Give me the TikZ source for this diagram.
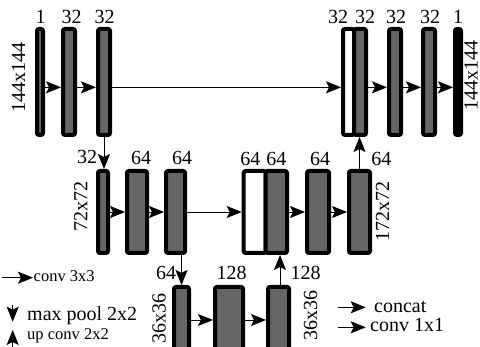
\documentclass[tikz,border=0pt]{standalone}
\usepackage{fontspec}
\setmainfont{Liberation Serif}
\newfontfamily\lserif{Liberation Serif}
\usetikzlibrary{arrows.meta}
\definecolor{boxgray}{RGB}{102,102,102}
\tikzset{
  box/.style={draw=black, line width=4pt, fill=boxgray, rounded corners=2pt, inner sep=0pt, outer sep=2pt},
  wbox/.style={box, fill=white},
  kbox/.style={box, fill=black},
  arr/.style={line width=0.9pt, -{Stealth[length=15pt,width=12pt,inset=3pt]}},
  lab/.style={inner sep=0pt, font=\lserif\fontsize{20}{24}\selectfont},
  slab/.style={inner sep=0pt, font=\lserif\fontsize{16.5}{20}\selectfont},
  rlab/.style={lab, rotate=90},
}
\begin{document}
\begin{tikzpicture}[x=1pt,y=-1pt]
\useasboundingbox (0,0) rectangle (480,347);
% row 1
\node[box, minimum width=6, minimum height=106] (b11) at (40,82) {};
\node[box, minimum width=12, minimum height=106] (b12) at (69,82) {};
\node[box, minimum width=12, minimum height=106] (b13) at (104,82) {};
\node[wbox, minimum width=11, minimum height=106] (c1a) at (348.5,82) {};
\node[box, minimum width=12, minimum height=106] (c1b) at (360,82) {};
\node[box, minimum width=12, minimum height=106] (b15) at (395,82) {};
\node[box, minimum width=12, minimum height=106] (b16) at (429,82) {};
\node[kbox, minimum width=6, minimum height=106] (b17) at (458,82) {};
% row 2
\node[box, minimum width=10, minimum height=82] (b21) at (103,212) {};
\node[box, minimum width=20, minimum height=82] (b22) at (137,212) {};
\node[box, minimum width=19, minimum height=82] (b23) at (175.5,212) {};
\node[wbox, minimum width=22, minimum height=82] (c2a) at (254.7,212) {};
\node[box, minimum width=21.5, minimum height=82] (c2b) at (276.25,212) {};
\node[box, minimum width=22, minimum height=82] (b25) at (318,212) {};
\node[box, minimum width=21, minimum height=82] (b26) at (359.5,212) {};
% row 3 (cut by the lower edge)
\node[box, minimum width=15, minimum height=72] (b31) at (181.5,323) {};
\node[box, minimum width=28, minimum height=72] (b32) at (229,323) {};
\node[box, minimum width=21, minimum height=72] (b33) at (278.5,323) {};
% row 1 arrows
\draw[arr] ([yshift=-5.3pt]b11.east) -- ([yshift=-5.3pt]b12.west);
\draw[arr] ([yshift=-5.3pt]b12.east) -- ([yshift=-5.3pt]b13.west);
\draw[arr] ([yshift=-5.3pt]b13.east) -- ([yshift=-5.3pt]c1a.west);
\draw[arr] ([yshift=-5.3pt]c1b.east) -- ([yshift=-5.3pt]b15.west);
\draw[arr] ([yshift=-5.3pt]b15.east) -- ([yshift=-5.3pt]b16.west);
\draw[arr] ([yshift=-5.3pt]b16.east) -- ([yshift=-5.3pt]b17.west);
% row 2 arrows
\draw[arr] (b21.east) -- (b22.west);
\draw[arr] (b22.east) -- (b23.west);
\draw[arr] (b23.east) -- (c2a.west);
\draw[arr] (c2b.east) -- (b25.west);
\draw[arr] (b25.east) -- (b26.west);
% row 3 arrows
\draw[arr] ([yshift=3pt]b31.east) -- ([yshift=3pt]b32.west);
\draw[arr] ([yshift=3pt]b32.east) -- ([yshift=3pt]b33.west);
% vertical arrows
\draw[arr] (b13.south) -- (b13.south |- b21.north);
\draw[arr] (b31.north |- b23.south) -- (b31.north);
\draw[arr] ([xshift=1.5pt]b33.north) -- ([xshift=1.5pt]b33.north |- c2b.south);
\draw[arr] (b26.north) -- (b26.north |- c1b.south);
% labels row 1
\node[lab] (t11) at (40.5,16.7) {1};
\node[lab] (t12) at (71.7,16.7) {32};
\node[lab] (t13) at (104.7,16.7) {32};
\node[lab] (t14) at (338,16.7) {32};
\node[lab] (t15) at (365,16.7) {32};
\node[lab] (t16) at (396,16.7) {32};
\node[lab] (t17) at (430,16.7) {32};
\node[lab] (t18) at (458,16.7) {1};
% labels row 2
\node[lab] (t21) at (87,156.5) {32};
\node[lab] (t22) at (141,158) {64};
\node[lab] (t23) at (182,158) {64};
\node[lab] (t24) at (250.3,159) {64};
\node[lab] (t25) at (276.3,159) {64};
\node[lab] (t26) at (320,159) {64};
\node[lab] (t27) at (381.3,159) {64};
% labels row 3
\node[lab] (t31) at (166,273.3) {64};
\node[lab] (t32) at (231.5,273.3) {128};
\node[lab] (t33) at (305.5,273.3) {128};
% rotated size labels
\node[rlab] (s1) at (18.5,78) {144x144};
\node[rlab] (s2) at (471,76) {144x144};
\node[rlab] (s3) at (80.7,206.7) {72x72};
\node[rlab] (s4) at (382.5,211.7) {172x72};
\node[rlab] (s5) at (159,319) {36x36};
\node[rlab] (s6) at (310.5,316) {36x36};
% legend
\coordinate (la1) at (2,277.7);
\coordinate (la2) at (33,277.7);
\draw[arr] (la1) -- (la2);
\node[slab, anchor=base west] (lt1) at (33.5,282) {conv 3x3};
\coordinate (lb1) at (12.7,305);
\coordinate (lb2) at (12.7,321.7);
\draw[arr] (lb1) -- (lb2);
\node[lab, anchor=base west] (lt2) at (27,320.5) {max pool 2x2};
\coordinate (lc1) at (12.7,350);
\coordinate (lc2) at (12.7,330);
\draw[arr] (lc1) -- (lc2);
\node[slab, anchor=base west] (lt3) at (27,340) {up conv 2x2};
\coordinate (ld1) at (338,307.3);
\coordinate (ld2) at (365.7,307.3);
\draw[arr] (ld1) -- (ld2);
\node[lab, anchor=base west] (lt4) at (374,313) {concat};
\coordinate (le1) at (338,327.3);
\coordinate (le2) at (365.7,327.3);
\draw[arr] (le1) -- (le2);
\node[lab, anchor=base west] (lt5) at (370,331.7) {conv 1x1};
\end{tikzpicture}
\end{document}
